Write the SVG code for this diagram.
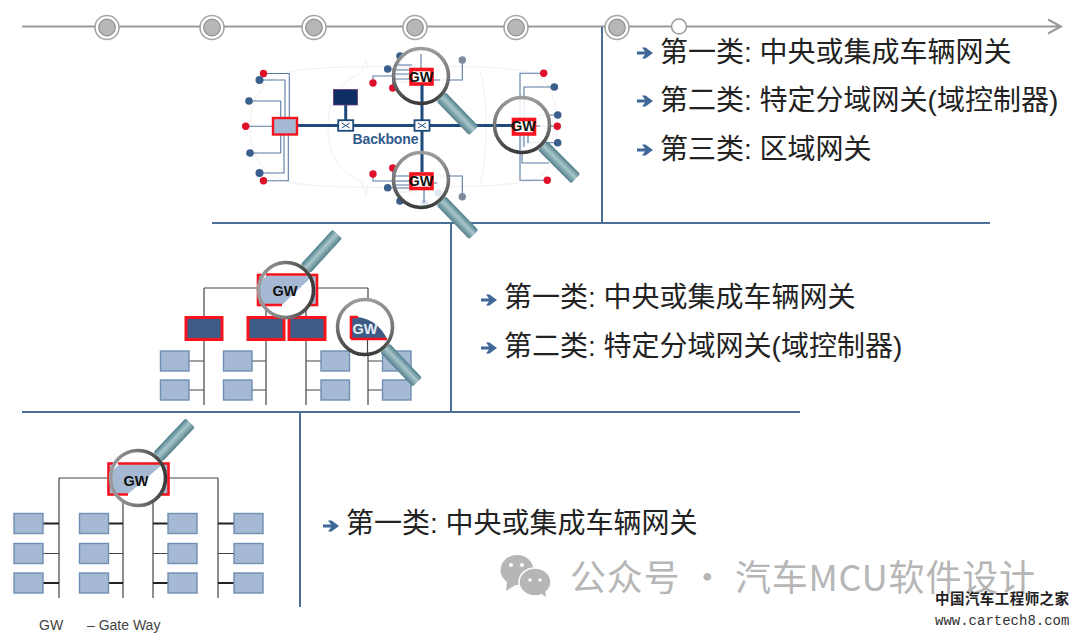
<svg xmlns="http://www.w3.org/2000/svg" width="1080" height="636" viewBox="0 0 1080 636">
<style>
.sec{fill:none;stroke:#4a6f99;stroke-width:2}
.tl{fill:none;stroke:#9a9a9a;stroke-width:2}
.w{fill:none;stroke:#587aa3;stroke-width:1.1}
.bb{fill:none;stroke:#1f4a7c;stroke-width:3}
.car{fill:none;stroke:#f0f0f0;stroke-width:1}
.r{fill:#e0102a}
.b{fill:#3a5f8d}
.g{fill:#7a8a9a}
.gw{fill:#fff;stroke:#f5141e;stroke-width:3.6}
.lab{font:bold 14.5px "Liberation Sans",Arial,sans-serif;fill:#111;text-anchor:middle}
.t{font:400 28px "Liberation Sans","Noto Sans CJK SC",sans-serif;fill:#222}
.lb{fill:#a6b9d4;stroke:#6f8fb3;stroke-width:1.4}
.db{fill:#3d5d88;stroke:#f5141e;stroke-width:3}
.k{fill:none;stroke:#444;stroke-width:1.2}
.k2{fill:none;stroke:#222;stroke-width:1.8}
.leg{font:14px "Liberation Sans",Arial,sans-serif;fill:#444}
</style>
<defs>
<linearGradient id="hg" x1="0" y1="0" x2="0" y2="1"><stop offset="0" stop-color="#4d7f8b"/><stop offset=".45" stop-color="#a9c6cc"/><stop offset="1" stop-color="#54808b"/></linearGradient>
<linearGradient id="rg" x1="0" y1="0" x2="1" y2="1"><stop offset="0" stop-color="#aaa"/><stop offset=".5" stop-color="#777"/><stop offset="1" stop-color="#222"/></linearGradient>
<g id="mag"><rect x="29" y="-6.5" width="47" height="13" rx="2" fill="url(#hg)"/><circle r="27.5" fill="none" stroke="url(#rg)" stroke-width="3.600"/></g>
<g id="st"><circle r="12" fill="#fff" stroke="#a5a5a5" stroke-width="1.6"/><circle r="8.3" fill="#b7b7b7" stroke="#8f8f8f" stroke-width="1.2"/></g>
<path id="ar" fill="#3f6797" d="M0 4.5H8L5 .5H8.5L16 6L8.5 11.5H5L8 7.5H0Z"/>
<g id="sw"><rect x="-7.5" y="-5.3" width="15" height="10.6" fill="#fff" stroke="#1f4a7c" stroke-width="1.8"/><path d="M-4-2.5L4 2.5M-4 2.5L4-2.5" stroke="#1f4a7c" stroke-width="1"/></g>
<clipPath id="c1"><circle cx="286" cy="290" r="27"/></clipPath>
<clipPath id="c2"><circle cx="365" cy="327" r="27"/></clipPath>
<clipPath id="c3"><circle cx="138" cy="478" r="27"/></clipPath>
</defs>

<g id="timeline">
<path class="tl" d="M22 26.5H1060M1048 19.5L1061 26.5L1048 33.5"/>
<use href="#st" x="107" y="27.500"/><use href="#st" x="212" y="27.500"/><use href="#st" x="314" y="27.500"/><use href="#st" x="415" y="27.500"/><use href="#st" x="516" y="27.500"/><use href="#st" x="617" y="27.500"/>
<circle cx="679" cy="26.500" r="7.500" fill="#fff" stroke="#9a9a9a" stroke-width="1.500"/>
</g>

<g id="sections">
<path class="sec" d="M602 27V223M212 223H990M451 223V412M22 412H800M300 412V607"/>
</g>

<g id="car-outline">
<path class="car" d="M300 70C340 66 380 66 410 67C450 66 500 66 530 72C552 78 557 105 557 127C557 150 552 175 530 181C500 187 450 187 410 187C380 188 340 188 300 184C262 180 250 155 250 127C250 100 262 74 300 70Z"/>
<path class="car" d="M362 72C335 85 328 105 328 127C328 150 335 170 362 182M362 72L366 60L368 70M362 182L366 195L368 184M480 70C488 95 488 155 480 184"/>
</g>

<g id="connectors">
<path class="w" d="M263 73.500H289.300V118M259 80H285V118M249 101H280.700V118M245.700 126.300H272.700M250 153H280.700V135M259 173H284V135M263 180.700H288.300V135"/>
<path class="w" d="M462.300 60V80H440M373 83V76H408M387.700 69H408M400 56V66H415M392.700 88V82H410"/>
<path class="w" d="M462.300 196.700V176H440M373 174V181H408M387.700 187.700H408M400 201V192H412M424.300 203V190M438.300 193V183H432M392.700 168V176H410"/>
<path class="w" d="M543.700 73.300H520V118M554.300 87H524V118M557.700 115H538M557.300 126.300H536M557.700 142.700H528V135M547.300 180.300H520V135M549 163H522V135"/>
<path class="bb" d="M298 125.500H514M422 85V172M345.700 105V120"/>
<path class="k" d="M204 288H257M317 288H368M204 288V405M266 305V405M306 305V405M368 288V405"/>
<path class="k" d="M189 361H204M189 390H204M252 361H266M252 390H266M306 361H321M306 390H321M368 361H382M368 390H382"/>
<path class="k" d="M59 478H108M169 478H218M59 478V598M123 494V598M153 494V598M218 478V598"/>
<path class="k2" d="M43 523.500H59M43 583H59M109 523.500H123M109 583H123M153 523.500H168M153 583H168M218 523.500H234M218 583H234"/>
<path class="k" d="M43 553.500H59M109 553.500H123M153 553.500H168M218 553.500H234"/>
</g>

<g id="dots-left"><circle class="r" cx="263.500" cy="73.500" r="3.700"/><circle class="b" cx="259.500" cy="80" r="4"/><circle class="b" cx="249" cy="101" r="3.800"/><circle class="r" cx="245.700" cy="126.300" r="3.700"/><circle class="b" cx="250" cy="153" r="3.800"/><circle class="b" cx="259.500" cy="173" r="4"/><circle class="r" cx="263.500" cy="180.700" r="3.700"/></g>
<g id="dots-top"><circle class="b" cx="400" cy="56" r="3.800"/><circle class="b" cx="387.700" cy="69" r="3.800"/><circle class="r" cx="373" cy="83" r="3.700"/><circle class="r" cx="392.700" cy="88" r="3.700"/><circle class="g" cx="462.300" cy="60" r="3.700"/></g>
<g id="dots-bottom"><circle class="r" cx="373" cy="174" r="3.700"/><circle class="r" cx="392.700" cy="168" r="3.700"/><circle class="b" cx="387.700" cy="187.700" r="3.800"/><circle class="b" cx="400" cy="201" r="3.800"/><circle class="b" cx="424.300" cy="203" r="3.800"/><circle class="b" cx="438.300" cy="193" r="3.800"/><circle class="g" cx="462.300" cy="196.700" r="3.700"/></g>
<g id="dots-right"><circle class="r" cx="543.700" cy="73.300" r="3.700"/><circle class="b" cx="554.300" cy="87" r="3.800"/><circle class="b" cx="557.700" cy="115" r="3.800"/><circle class="r" cx="557.300" cy="126.300" r="3.700"/><circle class="b" cx="557.700" cy="142.700" r="3.800"/><circle class="r" cx="547.300" cy="180.300" r="3.700"/></g>

<g id="ecu-left"><rect x="273" y="118" width="24" height="16.500" fill="#a6b9d4" stroke="#f5141e" stroke-width="2.400"/></g>
<g id="ecu-dark"><rect x="333.500" y="89.500" width="24" height="15.500" fill="#0f2f63" stroke="#6a3a7a" stroke-width=".8"/></g>
<use id="switch-1" href="#sw" x="345.700" y="125.500"/>
<use id="switch-2" href="#sw" x="422" y="125.500"/>
<text id="backbone" x="352.500" y="143.500" textLength="66" style="font:bold 14px 'Liberation Sans',Arial,sans-serif;fill:#2f5a8c">Backbone</text>

<g id="gw-top">
<circle cx="421" cy="76" r="27" fill="#fff" fill-opacity=".85"/>
<path class="w" d="M395 65H412M395 70H412M395 74H412M395 79H412M430 80H440M421 54V68"/>
<rect class="gw" x="411" y="69.500" width="21" height="14.500"/>
<path class="bb" d="M422 85V103"/>
<text class="lab" x="421" y="81.500">GW</text>
<use href="#mag" transform="translate(421 76) rotate(46)"/>
</g>
<g id="gw-bottom">
<circle cx="421" cy="180" r="27" fill="#fff" fill-opacity=".85"/>
<path class="w" d="M395 176H412M395 181H412M395 185H412M395 188H412M432 183H437M424 190V203"/>
<rect class="gw" x="411" y="174" width="21" height="14.500"/>
<path class="bb" d="M422 153V172"/>
<text class="lab" x="421" y="186">GW</text>
<use href="#mag" transform="translate(421 180) rotate(46)"/>
</g>
<g id="gw-right">
<circle cx="522" cy="125" r="27" fill="#fff" fill-opacity=".85"/>
<path class="w" d="M520 135V150M524 135V147M528 135V143M536 126H540"/>
<path class="bb" d="M496 125.500H514"/>
<rect class="gw" x="513.500" y="119.500" width="21" height="14.500"/>
<text class="lab" x="523.500" y="131">GW</text>
<use href="#mag" transform="translate(522 125) rotate(45)"/>
</g>

<g id="mid-nodes">
<rect class="db" x="186" y="317.500" width="36" height="22"/>
<rect class="db" x="248" y="317.500" width="36" height="22"/>
<rect class="db" x="289" y="317.500" width="36" height="22"/>
<g id="boxes-mid">
<rect class="lb" x="160.500" y="351" width="28.500" height="20"/><rect class="lb" x="160.500" y="380" width="28.500" height="20"/>
<rect class="lb" x="223.500" y="351" width="28.500" height="20"/><rect class="lb" x="223.500" y="380" width="28.500" height="20"/>
<rect class="lb" x="321" y="351" width="28.500" height="20"/><rect class="lb" x="321" y="380" width="28.500" height="20"/>
<rect class="lb" x="382.500" y="351" width="28.500" height="20"/><rect class="lb" x="382.500" y="380" width="28.500" height="20"/>
</g>
</g>
<g id="gw-mid-main">
<rect x="258" y="275" width="59" height="30" fill="#a6b9d4" stroke="#f5141e" stroke-width="2.600"/>
<circle cx="286" cy="290" r="27" fill="#fff"/>
<path clip-path="url(#c1)" fill="#a6b9d4" d="M258 283L267 275.500H313L282 305H258Z"/>
<path clip-path="url(#c1)" fill="none" stroke="#f5141e" stroke-width="2.400" d="M266 274.500H317M258 305H282"/>
<text class="lab" x="285" y="296">GW</text>
<use href="#mag" transform="translate(286 290) rotate(-47.500)"/>
</g>
<g id="gw-mid-domain">
<circle cx="365" cy="327" r="27" fill="#fff"/>
<path clip-path="url(#c2)" fill="#3d5d88" d="M351 317H358Q378 320 387 339H351Z"/>
<path clip-path="url(#c2)" fill="none" stroke="#f5141e" stroke-width="2.600" d="M351 339V317H358M351 339H387"/>
<path class="k" d="M367.500 340V353"/>
<text class="lab" x="365" y="333.500" style="fill:#e8eef6">GW</text>
<use href="#mag" transform="translate(365 327) rotate(46.500)"/>
</g>

<g id="bottom-boxes">
<rect class="lb" x="14" y="513.500" width="29" height="20"/><rect class="lb" x="14" y="543.500" width="29" height="20"/><rect class="lb" x="14" y="573" width="29" height="20"/>
<rect class="lb" x="79.500" y="513.500" width="29" height="20"/><rect class="lb" x="79.500" y="543.500" width="29" height="20"/><rect class="lb" x="79.500" y="573" width="29" height="20"/>
<rect class="lb" x="168" y="513.500" width="29" height="20"/><rect class="lb" x="168" y="543.500" width="29" height="20"/><rect class="lb" x="168" y="573" width="29" height="20"/>
<rect class="lb" x="234" y="513.500" width="29" height="20"/><rect class="lb" x="234" y="543.500" width="29" height="20"/><rect class="lb" x="234" y="573" width="29" height="20"/>
</g>
<g id="gw-bottom-main">
<rect x="108.500" y="463.500" width="60" height="31" fill="#a6b9d4" stroke="#f5141e" stroke-width="2.600"/>
<circle cx="138" cy="478" r="27" fill="#fff"/>
<path clip-path="url(#c3)" fill="#a6b9d4" d="M110 473L120 464H163L128 494H110Z"/>
<path clip-path="url(#c3)" fill="none" stroke="#f5141e" stroke-width="2.400" d="M118 463.500H169M108 494.500H128"/>
<text class="lab" x="136" y="486">GW</text>
<use href="#mag" transform="translate(138 478) rotate(-46.500)"/>
</g>

<g id="list-top">
<use href="#ar" x="637" y="47"/><text class="t" x="660" y="62">第一类: 中央或集成车辆网关</text>
<use href="#ar" x="637" y="95"/><text class="t" x="660" y="110">第二类: 特定分域网关(域控制器)</text>
<use href="#ar" x="637" y="144"/><text class="t" x="660" y="159">第三类: 区域网关</text>
</g>
<g id="list-mid">
<use href="#ar" x="481" y="294"/><text class="t" x="504" y="307">第一类: 中央或集成车辆网关</text>
<use href="#ar" x="481" y="342"/><text class="t" x="504" y="356">第二类: 特定分域网关(域控制器)</text>
</g>
<g id="list-bottom">
<use href="#ar" x="323" y="520"/><text class="t" x="346" y="533">第一类: 中央或集成车辆网关</text>
</g>
<g id="legend"><text class="leg" x="39" y="630">GW</text><text class="leg" x="87" y="630">– Gate Way</text></g>

<g id="watermark">
<ellipse cx="517" cy="570" rx="16.500" ry="15" fill="#b6b6b6"/><path d="M507 581L506 591L517 584Z" fill="#b6b6b6"/>
<ellipse cx="535" cy="582" rx="16" ry="14" fill="#b6b6b6" stroke="#fff" stroke-width="1.500"/><path d="M540 593L546 597L545 590Z" fill="#b6b6b6"/>
<circle cx="511" cy="565" r="2" fill="#fff"/><circle cx="522" cy="565" r="2" fill="#fff"/><circle cx="530" cy="580" r="1.800" fill="#fff"/><circle cx="540" cy="580" r="1.800" fill="#fff"/>
<text x="570" y="591" textLength="465" style="font:400 36px 'Noto Sans CJK SC',sans-serif;fill:#b6b6b6">公众号 · 汽车MCU软件设计</text>
<text x="935" y="604" textLength="134" style="font:700 14.500px 'Noto Sans CJK SC',sans-serif;fill:#222">中国汽车工程师之家</text>
<text x="935" y="625" style="font:14px 'Liberation Mono',monospace;fill:#333">www.cartech8.com</text>
</g>
</svg>
